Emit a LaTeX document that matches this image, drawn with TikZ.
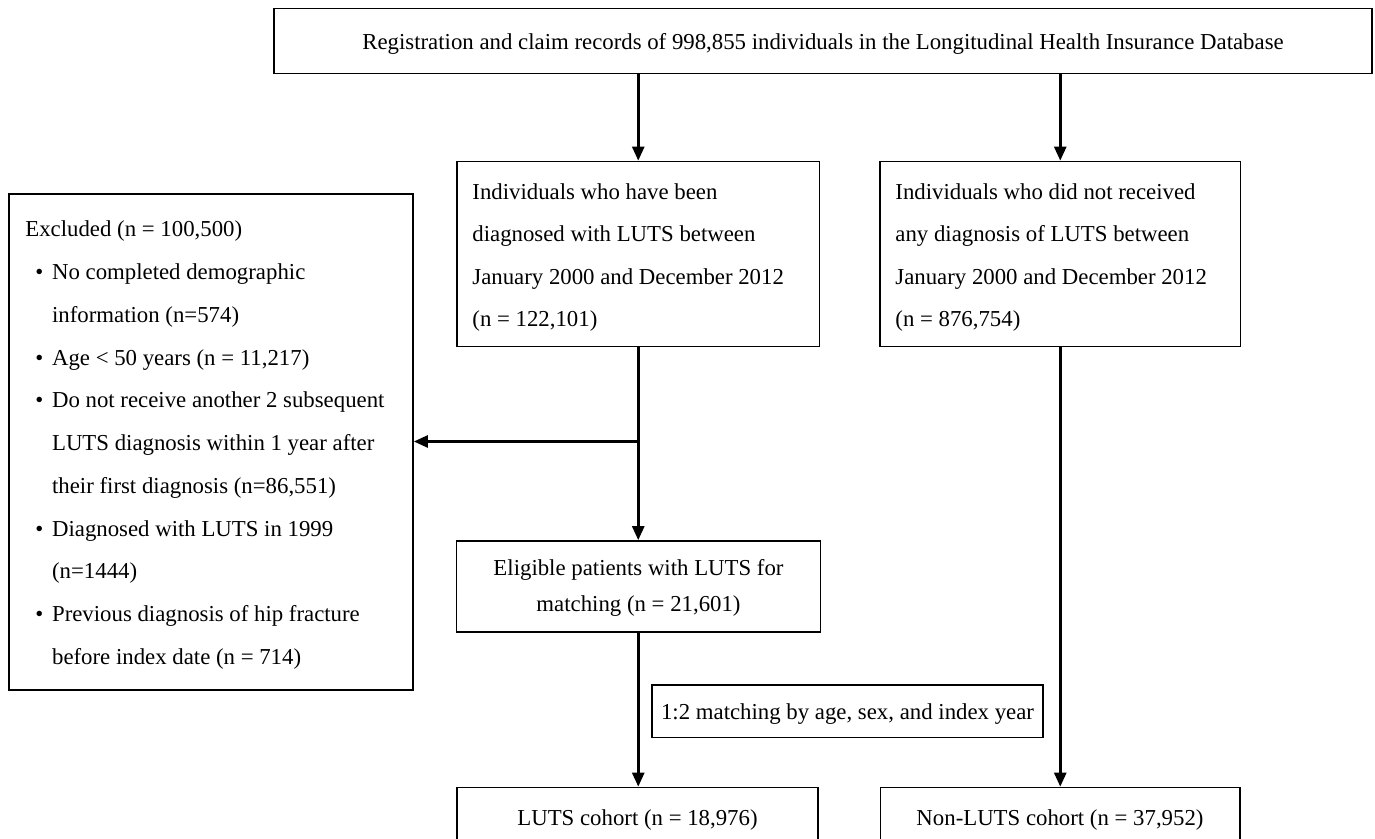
\documentclass[tikz,border=0pt]{standalone}
\usepackage{fontspec}
\setmainfont{Liberation Serif}
\usetikzlibrary{arrows.meta,fit}
\newcommand\bul{\makebox[13.35pt][l]{\hspace{5pt}\textbullet}}
\newcommand\ind{\hspace*{13.35pt}}
\newcommand\mlinesl[2]{\fontsize{11.4}{#1}\selectfont\begin{tabular}[t]{@{}l@{}}#2\end{tabular}}
\newcommand\mlinesc[2]{\fontsize{11.4}{#1}\selectfont\begin{tabular}[t]{@{}c@{}}#2\end{tabular}}
\begin{document}
\begin{tikzpicture}[x=0.5pt,y=-0.5pt,
  bx/.style={draw, line width=0.85pt, inner sep=0pt},
  txt/.style={inner sep=0pt, font=\fontsize{11.4}{13.7}\selectfont},
  arr/.style={line width=1.3pt, -{Triangle[length=7pt,width=6pt]}}]
\useasboundingbox (0,0) rectangle (1375,839);
\clip (0,0) rectangle (1375,839);
\fill[white] (0,0) rectangle (1375,839);

% top box
\node[bx, fit={(274,8.5) (1372,73.5)}] (top) {};
\node[txt, anchor=base] (topt) at (823,49.3) {Registration and claim records of 998,855 individuals in the Longitudinal Health Insurance Database};

% LUTS diagnosed
\node[bx, fit={(457,161.5) (819.5,346.5)}] (A) {};
\node[txt, anchor=base west] (At) at (472,199.3) {\mlinesl{21.25pt}{Individuals who have been\\ diagnosed with LUTS between\\ January 2000 and December 2012\\ (n = 122,101)}};

% no LUTS
\node[bx, fit={(880,161.5) (1240.5,346.5)}] (B) {};
\node[txt, anchor=base west] (Bt) at (895,199.3) {\mlinesl{21.25pt}{Individuals who did not received\\ any diagnosis of LUTS between\\ January 2000 and December 2012\\ (n = 876,754)}};

% excluded
\node[bx, fit={(9,194) (413,690)}] (X) {};
\node[txt, anchor=base west] (Xt) at (25,237) {\mlinesl{21.36pt}{Excluded (n = 100,500)\\
\bul No completed demographic\\
\ind information (n=574)\\
\bul Age < 50 years (n = 11,217)\\
\bul Do not receive another 2 subsequent\\
\ind LUTS diagnosis within 1 year after\\
\ind their first diagnosis (n=86,551)\\
\bul Diagnosed with LUTS in 1999\\
\ind (n=1444)\\
\bul Previous diagnosis of hip fracture\\
\ind before index date (n = 714)}};

% eligible
\node[bx, fit={(456.5,541) (820.5,632)}] (E) {};
\node[txt, anchor=base] (Et) at (638.5,575) {\mlinesc{18pt}{Eligible patients with LUTS for\\ matching (n = 21,601)}};

% matching
\node[bx, fit={(652,685) (1043,737.5)}] (M) {};
\node[txt, anchor=base] (Mt) at (847.5,719) {1:2 matching by age, sex, and index year};

% cohorts
\node[bx, fit={(457,787.5) (818,880)}] (L) {};
\node[txt, anchor=base] (Lt) at (637.5,825) {LUTS cohort (n = 18,976)};
\node[bx, fit={(880.5,787.5) (1240,880)}] (N) {};
\node[txt, anchor=base] (Nt) at (1060,825) {Non-LUTS cohort (n = 37,952)};

% connectors
\draw[arr] (top.south -| A.north) -- (A.north);
\draw[arr] (top.south -| B.north) -- (B.north);
\draw[arr] (A.south) -- (A.south |- E.north);
\coordinate (j0) at (0,441.5);
\coordinate (j) at (A.south |- j0);
\draw[arr] (j) -- (j -| X.east);
\draw[arr] (A.south |- E.south) -- (A.south |- L.north);
\draw[arr] (B.south) -- (N.north);
\end{tikzpicture}
\end{document}
